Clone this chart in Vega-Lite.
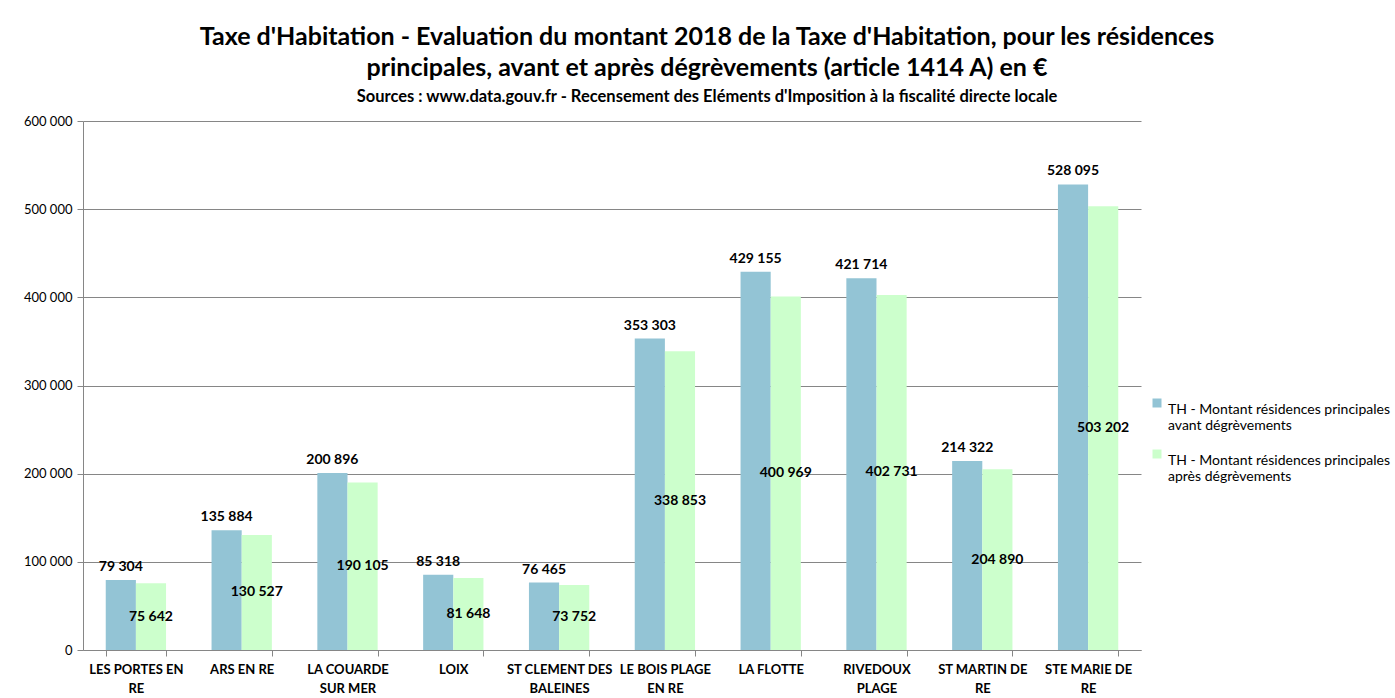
{
  "$schema": "https://vega.github.io/schema/vega-lite/v6.json",
  "width": 1058,
  "height": 529,
  "autosize": {"type": "none"},
  "padding": {"left": 83, "top": 121, "right": 254, "bottom": 48},
  "background": "white",
  "title": {
    "text": ["Taxe d'Habitation - Evaluation du montant 2018 de la Taxe d'Habitation, pour les résidences", "principales, avant et après dégrèvements (article 1414 A) en €"],
    "subtitle": "Sources : www.data.gouv.fr - Recensement des Eléments d'Imposition à la fiscalité directe locale",
    "anchor": "middle",
    "dx": 95,
    "font": "Lato",
    "fontSize": 25,
    "fontWeight": "bold",
    "color": "#000000",
    "lineHeight": 31,
    "subtitleFont": "Lato",
    "subtitleFontSize": 16.5,
    "subtitleFontWeight": "bold",
    "subtitleColor": "#000000",
    "subtitlePadding": 8,
    "offset": 10
  },
  "config": {
    "locale": {"number": {"decimal": ",", "thousands": " ", "grouping": [3], "currency": ["", " €"]}},
    "view": {"stroke": null}
  },
  "data": {
    "values": [
      {"commune": "LES PORTES EN RE", "serie": "TH - Montant résidences principales avant dégrèvements", "montant": 79304},
      {"commune": "LES PORTES EN RE", "serie": "TH - Montant résidences principales après dégrèvements", "montant": 75642},
      {"commune": "ARS EN RE", "serie": "TH - Montant résidences principales avant dégrèvements", "montant": 135884},
      {"commune": "ARS EN RE", "serie": "TH - Montant résidences principales après dégrèvements", "montant": 130527},
      {"commune": "LA COUARDE SUR MER", "serie": "TH - Montant résidences principales avant dégrèvements", "montant": 200896},
      {"commune": "LA COUARDE SUR MER", "serie": "TH - Montant résidences principales après dégrèvements", "montant": 190105},
      {"commune": "LOIX", "serie": "TH - Montant résidences principales avant dégrèvements", "montant": 85318},
      {"commune": "LOIX", "serie": "TH - Montant résidences principales après dégrèvements", "montant": 81648},
      {"commune": "ST CLEMENT DES BALEINES", "serie": "TH - Montant résidences principales avant dégrèvements", "montant": 76465},
      {"commune": "ST CLEMENT DES BALEINES", "serie": "TH - Montant résidences principales après dégrèvements", "montant": 73752},
      {"commune": "LE BOIS PLAGE EN RE", "serie": "TH - Montant résidences principales avant dégrèvements", "montant": 353303},
      {"commune": "LE BOIS PLAGE EN RE", "serie": "TH - Montant résidences principales après dégrèvements", "montant": 338853},
      {"commune": "LA FLOTTE", "serie": "TH - Montant résidences principales avant dégrèvements", "montant": 429155},
      {"commune": "LA FLOTTE", "serie": "TH - Montant résidences principales après dégrèvements", "montant": 400969},
      {"commune": "RIVEDOUX PLAGE", "serie": "TH - Montant résidences principales avant dégrèvements", "montant": 421714},
      {"commune": "RIVEDOUX PLAGE", "serie": "TH - Montant résidences principales après dégrèvements", "montant": 402731},
      {"commune": "ST MARTIN DE RE", "serie": "TH - Montant résidences principales avant dégrèvements", "montant": 214322},
      {"commune": "ST MARTIN DE RE", "serie": "TH - Montant résidences principales après dégrèvements", "montant": 204890},
      {"commune": "STE MARIE DE RE", "serie": "TH - Montant résidences principales avant dégrèvements", "montant": 528095},
      {"commune": "STE MARIE DE RE", "serie": "TH - Montant résidences principales après dégrèvements", "montant": 503202}
    ]
  },
  "encoding": {
    "x": {
      "field": "commune",
      "type": "nominal",
      "sort": null,
      "scale": {"paddingInner": 0.43, "paddingOuter": 0.215},
      "axis": {
        "title": null,
        "labelAngle": 0,
        "tickBand": "extent",
        "grid": false,
        "labelFont": "Lato",
        "labelFontSize": 13,
        "labelFontWeight": "bold",
        "labelColor": "#000000",
        "labelLineHeight": 19,
        "labelPadding": 7,
        "labelBaseline": "top",
        "labelLimit": 200,
        "domainColor": "#868686",
        "tickColor": "#868686",
        "tickSize": 6,
        "labelExpr": "split(replace(datum.label, regexp('^(LES PORTES EN|LA COUARDE|ST CLEMENT DES|LE BOIS PLAGE|RIVEDOUX|ST MARTIN DE|STE MARIE DE) '), '$1|'), '|')"
      }
    },
    "xOffset": {
      "field": "serie",
      "type": "nominal",
      "sort": null,
      "scale": {"domain": ["TH - Montant résidences principales avant dégrèvements", "TH - Montant résidences principales après dégrèvements"], "paddingInner": 0, "paddingOuter": 0}
    }
  },
  "layer": [
    {
      "mark": {"type": "bar"},
      "encoding": {
        "y": {
          "field": "montant",
          "type": "quantitative",
          "scale": {"domain": [0, 600000], "nice": false},
          "axis": {
            "title": null,
            "values": [0, 100000, 200000, 300000, 400000, 500000, 600000],
            "format": ",d",
            "grid": true,
            "gridColor": "#868686",
            "gridWidth": 1,
            "domainColor": "#868686",
            "tickColor": "#868686",
            "tickSize": 6,
            "labelFont": "Lato",
            "labelFontSize": 13,
            "labelColor": "#000000",
            "labelPadding": 5
          }
        },
        "color": {
          "field": "serie",
          "type": "nominal",
          "sort": null,
          "scale": {"domain": ["TH - Montant résidences principales avant dégrèvements", "TH - Montant résidences principales après dégrèvements"], "range": ["#93C4D5", "#CCFFCC"]},
          "legend": {
            "title": null,
            "orient": "none",
            "legendX": 1067,
            "legendY": 275,
            "symbolType": "square",
            "symbolSize": 81,
            "symbolStrokeWidth": 0,
            "labelFont": "Lato",
            "labelFontSize": 14,
            "labelColor": "#000000",
            "labelLimit": 300,
            "labelBaseline": "top",
            "rowPadding": 14,
            "labelExpr": "[slice(datum.label, 0, 35), slice(datum.label, 36)]"
          }
        }
      }
    },
    {
      "transform": [{"filter": "datum.serie == 'TH - Montant résidences principales avant dégrèvements'"}],
      "mark": {"type": "text", "font": "Lato", "fontSize": 14, "fontWeight": "bold", "color": "#000000", "baseline": "bottom", "dy": -6},
      "encoding": {
        "y": {"field": "montant", "type": "quantitative", "scale": {"domain": [0, 600000], "nice": false}, "axis": null},
        "text": {"field": "montant", "type": "quantitative", "format": ",d"}
      }
    },
    {
      "transform": [{"filter": "datum.serie == 'TH - Montant résidences principales après dégrèvements'"}],
      "mark": {"type": "text", "font": "Lato", "fontSize": 14, "fontWeight": "bold", "color": "#000000", "baseline": "middle"},
      "encoding": {
        "y": {"field": "montant", "type": "quantitative", "scale": {"domain": [0, 1200000], "nice": false}, "axis": null},
        "text": {"field": "montant", "type": "quantitative", "format": ",d"}
      }
    }
  ],
  "resolve": {"scale": {"y": "independent"}}
}
